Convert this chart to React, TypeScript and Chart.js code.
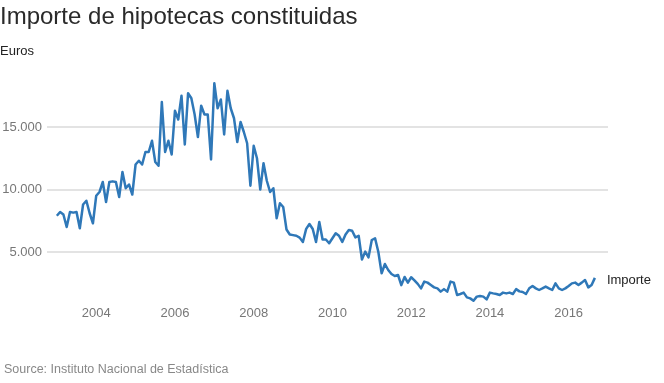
import React, { useEffect, useRef } from "react";
import { Chart, registerables } from "chart.js";

Chart.register(...registerables);

const START_YEAR = 2003;
const START_MONTH = 0; // January
const X_TICKS = [2004, 2006, 2008, 2010, 2012, 2014, 2016];
const Y_TICKS = [5000, 10000, 15000];
const SERIES_NAME = "Importe";
const TITLE = "Importe de hipotecas constituidas";
const UNIT = "Euros";
const SOURCE = "Source: Instituto Nacional de Estadística";

// Monthly values, Jan 2003 – Sep 2016
const importe = [
  7900, 8200, 8000, 7000, 8200, 8150, 8200, 6900, 8800, 9100, 8100, 7300,
  9500, 9800, 10600, 9000, 10600, 10650, 10600, 9400, 11400, 10100, 10400, 9600,
  12000, 12300, 12000, 13000, 13000, 13900, 12200, 11900, 17000, 13000, 13900, 12800,
  16300, 15600, 17500, 13600, 17700, 17300, 16000, 14200, 16700, 16000, 16000, 12400,
  18500, 16500, 17200, 14400, 17900, 16500, 15700, 13800, 15400, 14600, 13700, 10300,
  13500, 12500, 10000, 12100, 10700, 9800, 10100, 7700, 8900, 8600, 6800, 6400,
  6350, 6300, 6150, 5800, 6850, 7240, 6840, 5800, 7400, 6000, 6000, 5700,
  6100, 6500, 6300, 5800, 6400, 6760, 6700, 6170, 6300, 4400, 5030, 4570,
  5960, 6100, 5000, 3300, 4040, 3560, 3240, 3080, 3160, 2350, 3000, 2550,
  2980, 2730, 2450, 2090, 2630, 2550, 2360, 2170, 2090, 1830, 2030, 1830,
  2630, 2550, 1560, 1640, 1750, 1370, 1290, 1100, 1430, 1480, 1430, 1210,
  1750, 1690, 1640, 1560, 1750, 1690, 1750, 1640, 2030, 1850, 1800, 1640,
  2100, 2280, 2090, 1960, 2090, 2230, 2090, 1960, 2490, 2090, 1960, 2090,
  2280, 2490, 2550, 2360, 2550, 2760, 2170, 2360, 2930,
];

const fmt = (v: number) =>
  String(v).replace(/\B(?=(\d{3})+(?!\d))/g, ".");

export default function App() {
  const ref = useRef<HTMLCanvasElement | null>(null);

  useEffect(() => {
    if (!ref.current) return;
    const points = importe.map((v, i) => ({
      x: START_YEAR + (START_MONTH + i) / 12,
      y: v,
    }));

    const endLabel = {
      id: "endLabel",
      afterDatasetsDraw(chart: any) {
        const meta = chart.getDatasetMeta(0);
        const last = meta.data[meta.data.length - 1];
        if (!last) return;
        const ctx = chart.ctx;
        ctx.save();
        ctx.font = "13px 'Liberation Sans', Arial, sans-serif";
        ctx.fillStyle = "#222";
        ctx.textAlign = "left";
        ctx.textBaseline = "middle";
        ctx.fillText(SERIES_NAME, last.x + 12, last.y + 3);
        ctx.restore();
      },
    };

    const chart = new Chart(ref.current, {
      type: "line",
      data: {
        datasets: [
          {
            label: SERIES_NAME,
            data: points,
            borderColor: "#2f78b8",
            borderWidth: 2.5,
            pointRadius: 0,
            tension: 0,
            borderJoinStyle: "round",
            fill: false,
          },
        ],
      },
      options: {
        animation: false,
        responsive: false,
        devicePixelRatio: 1,
        layout: { padding: { left: 0, right: 56, top: 64.5, bottom: 40 } },
        plugins: {
          legend: { display: false },
          tooltip: { enabled: false },
          title: { display: false },
        },
        scales: {
          x: {
            type: "linear",
            min: 2002.75,
            max: 2017.0,
            grid: { display: false, drawTicks: false },
            border: { display: false },
            afterBuildTicks: (s: any) => {
              s.ticks = X_TICKS.map((v) => ({ value: v }));
            },
            afterFit: (s: any) => {
              s.height = 40;
            },
            ticks: {
              padding: 3,
              maxRotation: 0,
              autoSkip: false,
              color: "#777",
              font: { family: "'Liberation Sans', Arial, sans-serif", size: 13 },
              callback: (v: any) => String(v),
            },
          },
          y: {
            type: "linear",
            min: 920,
            max: 20000,
            grid: {
              color: "#e3e3e3",
              lineWidth: 2,
              drawTicks: false,
            },
            border: { display: false },
            afterBuildTicks: (s: any) => {
              s.ticks = Y_TICKS.map((v) => ({ value: v }));
            },
            afterFit: (s: any) => {
              s.width = 47;
            },
            ticks: {
              padding: 5,
              color: "#777",
              font: { family: "'Liberation Sans', Arial, sans-serif", size: 13 },
              callback: (v: any) => fmt(v as number),
            },
          },
        },
      },
      plugins: [endLabel],
    } as any);

    return () => chart.destroy();
  }, []);

  const base: React.CSSProperties = {
    position: "absolute",
    left: 0,
    margin: 0,
    whiteSpace: "nowrap",
    fontFamily: "'Liberation Sans', Arial, sans-serif",
  };

  return (
    <div
      style={{
        position: "fixed",
        left: 0,
        top: 0,
        width: 664,
        height: 383,
        background: "#fff",
        overflow: "hidden",
      }}
    >
      <canvas
        ref={ref}
        width={664}
        height={383}
        style={{ position: "absolute", left: 0, top: 0, width: 664, height: 383 }}
      />
      <div
        style={{
          ...base,
          top: 4,
          fontSize: 24,
          lineHeight: "24px",
          color: "#2a2a2a",
          fontWeight: 300,
        }}
      >
        {TITLE}
      </div>
      <div style={{ ...base, top: 44, fontSize: 13, lineHeight: "13px", color: "#222" }}>
        {UNIT}
      </div>
      <div
        style={{ ...base, left: 4, top: 363, fontSize: 12.5, lineHeight: "13px", color: "#888" }}
      >
        {SOURCE}
      </div>
    </div>
  );
}
